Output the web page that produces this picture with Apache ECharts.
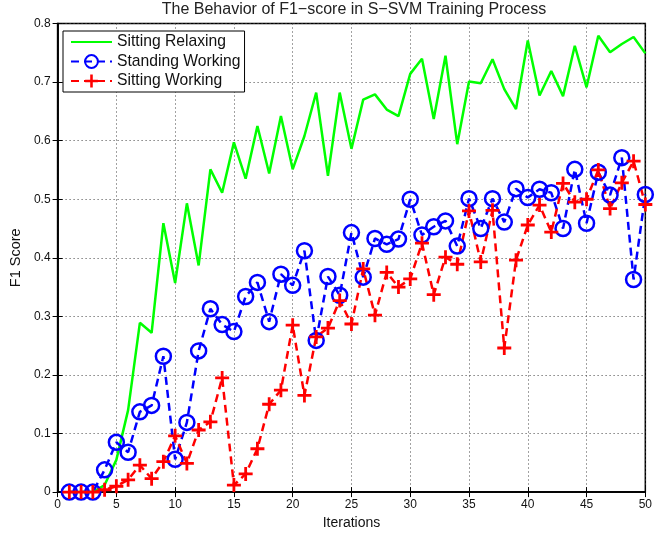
<!DOCTYPE html>
<html>
<head>
<meta charset="utf-8">
<script src="https://cdn.jsdelivr.net/npm/echarts@6/dist/echarts.min.js"></script>
<style>html,body{margin:0;padding:0;background:#fff}#c{width:655px;height:535px}</style>
</head>
<body>
<div id="c"></div>
<script>
const iterations = [1,2,3,4,5,6,7,8,9,10,11,12,13,14,15,16,17,18,19,20,21,22,23,24,25,26,27,28,29,30,31,32,33,34,35,36,37,38,39,40,41,42,43,44,45,46,47,48,49,50];
const sittingRelaxing = [0,0,0,0.012,0.055,0.14,0.289,0.272,0.459,0.357,
  0.493,0.387,0.551,0.511,0.597,0.535,0.625,0.544,0.642,0.551,
  0.608,0.682,0.540,0.682,0.586,0.670,0.679,0.653,0.642,0.714,
  0.740,0.637,0.745,0.594,0.701,0.698,0.739,0.688,0.654,0.771,
  0.677,0.719,0.676,0.762,0.691,0.779,0.751,0.765,0.777,0.749];
const standingWorking = [0,0,0,0.038,0.085,0.068,0.137,0.148,0.232,0.056,
  0.119,0.241,0.313,0.286,0.274,0.334,0.358,0.291,0.372,0.353,
  0.412,0.259,0.368,0.336,0.443,0.367,0.433,0.423,0.432,0.500,
  0.439,0.453,0.463,0.420,0.501,0.450,0.501,0.461,0.518,0.503,
  0.517,0.511,0.450,0.551,0.459,0.546,0.507,0.571,0.363,0.508];
const sittingWorking = [0,0,0,0.004,0.010,0.021,0.046,0.023,0.052,0.096,
  0.049,0.106,0.120,0.195,0.012,0.031,0.074,0.150,0.174,0.285,
  0.165,0.265,0.280,0.327,0.287,0.381,0.302,0.375,0.350,0.364,
  0.425,0.337,0.401,0.389,0.480,0.393,0.481,0.246,0.396,0.456,
  0.490,0.444,0.527,0.495,0.500,0.550,0.484,0.528,0.565,0.491];
const seriesNames = ['Sitting Relaxing','Standing Working','Sitting Working'];
const titleText = 'The Behavior of F1\u2212score in S\u2212SVM Training Process';

const pair = arr => iterations.map((x, i) => [x, arr[i]]);
const FONT = '"Liberation Sans", Arial, Helvetica, sans-serif';
const plusPath = 'path://M4,0H6V4H10V6H6V10H4V6H0V4H4Z';

const chart = echarts.init(document.getElementById('c'), null, {renderer: 'canvas'});
const gridSplit = {show: true, lineStyle: {color: '#444', type: [1, 3], width: 1}};
chart.setOption({
  animation: false,
  backgroundColor: '#fff',
  textStyle: {fontFamily: FONT},
  title: {
    text: titleText, left: 354, textAlign: 'center', top: 2, padding: 0,
    textStyle: {fontFamily: FONT, fontSize: 16, fontWeight: 'normal', color: '#222'}
  },
  legend: {
    left: 63, top: 31, orient: 'vertical',
    backgroundColor: '#fff', borderColor: '#000', borderWidth: 1, borderRadius: 0,
    padding: [3, 4, 3, 7], itemGap: 3.5, itemWidth: 41, itemHeight: 16,
    textStyle: {fontFamily: FONT, fontSize: 15.7, color: '#111'},
    data: seriesNames
  },
  grid: {left: 55.5, right: 4, top: 23.5, bottom: 41, show: true, borderColor: '#000', borderWidth: 1.5, backgroundColor: 'transparent'},
  xAxis: [{
    type: 'value', min: 0, max: 50, interval: 5, position: 'bottom',
    name: 'Iterations', nameLocation: 'middle', nameGap: 21,
    nameTextStyle: {fontFamily: FONT, fontSize: 14, color: '#111'},
    axisLine: {show: true, lineStyle: {color: '#000', width: 1.5}},
    axisTick: {show: true, inside: true, length: 5, lineStyle: {color: '#000'}},
    axisLabel: {fontFamily: FONT, fontSize: 12, color: '#111', margin: 7},
    splitLine: gridSplit
  }, {
    type: 'value', min: 0, max: 50, interval: 5, position: 'top',
    axisLine: {show: true, lineStyle: {color: '#000', width: 1.5}},
    axisTick: {show: true, inside: true, length: 5, lineStyle: {color: '#000'}},
    axisLabel: {show: false}, splitLine: {show: false}
  }],
  yAxis: [{
    type: 'value', min: 0, max: 0.8, interval: 0.1, position: 'left',
    name: 'F1 Score', nameLocation: 'middle', nameGap: 23, nameRotate: 90,
    nameTextStyle: {fontFamily: FONT, fontSize: 14.5, color: '#111'},
    axisLine: {show: true, lineStyle: {color: '#000', width: 1.5}},
    axisTick: {show: true, inside: true, length: 5, lineStyle: {color: '#000'}},
    axisLabel: {fontFamily: FONT, fontSize: 12, color: '#111', margin: 7,
      formatter: v => v === 0 ? '0' : v.toFixed(1)},
    splitLine: gridSplit
  }, {
    type: 'value', min: 0, max: 0.8, interval: 0.1, position: 'right',
    axisLine: {show: true, lineStyle: {color: '#000', width: 1.5}},
    axisTick: {show: true, inside: true, length: 5, lineStyle: {color: '#000'}},
    axisLabel: {show: false}, splitLine: {show: false}
  }],
  series: [{
    name: seriesNames[0], type: 'line', data: pair(sittingRelaxing),
    symbol: 'none',
    lineStyle: {color: '#00ff00', width: 2.5},
    itemStyle: {color: 'rgba(0,0,0,0)', borderWidth: 0}
  }, {
    name: seriesNames[1], type: 'line', data: pair(standingWorking),
    symbol: 'circle', symbolSize: 15, showSymbol: true,
    lineStyle: {color: '#0000ff', width: 2.5, type: [8, 5]},
    itemStyle: {color: 'rgba(255,255,255,0)', borderColor: '#0000ff', borderWidth: 2.5}
  }, {
    name: seriesNames[2], type: 'line', data: pair(sittingWorking),
    symbol: plusPath, symbolSize: 14, showSymbol: true,
    lineStyle: {color: '#ff0000', width: 2.5, type: [8, 5]},
    itemStyle: {color: '#ff0000', borderWidth: 0}
  }]
});
</script>
</body>
</html>
